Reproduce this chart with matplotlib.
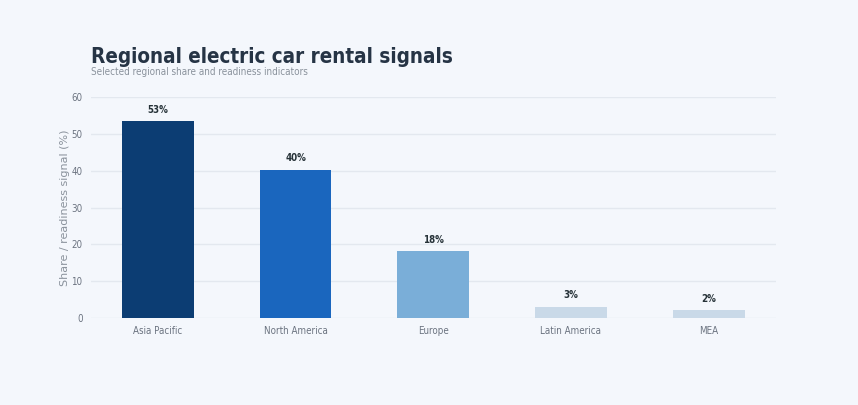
import matplotlib.pyplot as plt

regions = ['Asia Pacific', 'North America', 'Europe', 'Latin America', 'MEA']
signal_pct = [53.4, 40.2, 18.1, 3.1, 2.1]
bar_colors = ['#0c3d73', '#1a66be', '#7aaed8', '#c9d9e8', '#c9d9e8']
y_ticks = [0, 10, 20, 30, 40, 50, 60]

plt.rcParams['font.family'] = 'DejaVu Sans'
plt.rcParams['font.stretch'] = 'condensed'

bg = '#f4f7fc'
fig = plt.figure(figsize=(8.58, 4.05), dpi=100, facecolor=bg)
ax = fig.add_axes([0.106, 0.215, 0.798, 0.545], facecolor=bg)

bars = ax.bar(regions, signal_pct, width=0.52, color=bar_colors, zorder=3)
for b, v in zip(bars, signal_pct):
    ax.text(b.get_x() + b.get_width() / 2, v + 1.8, f'{v:.0f}%',
            ha='center', va='bottom', fontsize=7, fontweight='bold', color='#263238')

ax.set_ylim(0, 60)
ax.set_yticks(y_ticks)
ax.grid(axis='y', color='#e3e8ef', linewidth=1, zorder=0)
for s in ax.spines.values():
    s.set_visible(False)
ax.tick_params(axis='both', length=0, labelsize=7, labelcolor='#6b7380', pad=6)
# y축 제목만 일반 폭 글꼴
ax.set_ylabel('Share / readiness signal (%)', fontsize=8, color='#8a929c',
              labelpad=1, fontstretch='normal')

fig.text(0.106, 0.86, 'Regional electric car rental signals', fontsize=14.8,
         fontweight='bold', color='#263445', va='center')
fig.text(0.106, 0.822, 'Selected regional share and readiness indicators', fontsize=7.1,
         color='#8a929c', va='center')

fig.savefig('out.png', dpi=100, facecolor=bg)
